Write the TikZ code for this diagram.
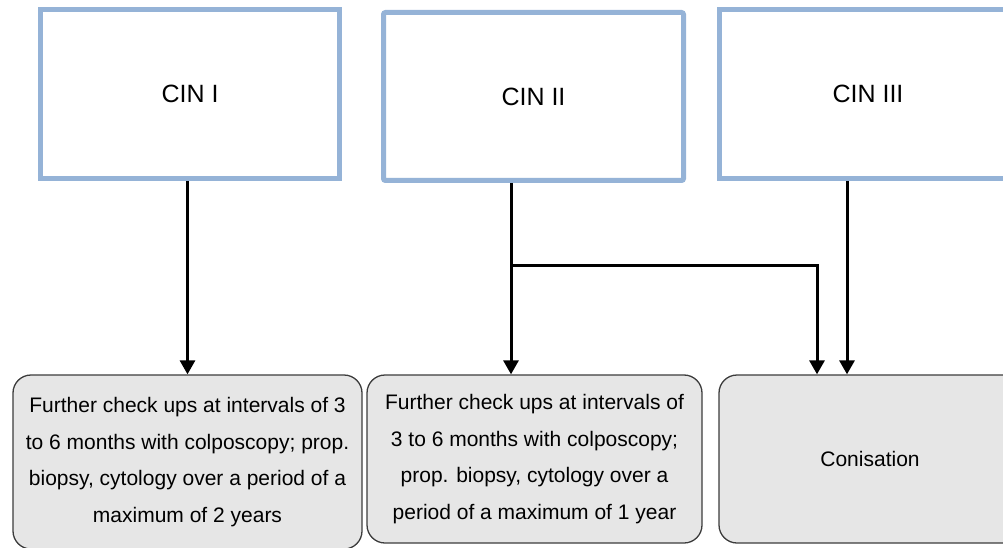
\documentclass[tikz,border=0pt]{standalone}
\usepackage{fontspec}
\setmainfont{Liberation Sans}
\usetikzlibrary{arrows.meta}
\definecolor{topblue}{RGB}{149,179,215}
\definecolor{boxgray}{RGB}{230,230,230}
\definecolor{boxedge}{RGB}{60,60,60}
\begin{document}
\begin{tikzpicture}[x=1pt,y=-1pt,
  topbox/.style={draw=topblue, line width=5pt, fill=white, inner sep=0pt,
    font=\fontsize{25}{30}\selectfont},
  botbox/.style={draw=boxedge, line width=1.3pt, fill=boxgray, rounded corners=18pt,
    inner sep=0pt, align=center, font=\fontsize{21}{36.7}\selectfont},
  flow/.style={line width=3pt, -{Triangle[width=15pt,length=14pt]}}]
\useasboundingbox (0,0) rectangle (1003,548);
\clip (0,0) rectangle (1003,548);
% top boxes
\node[topbox, minimum width=299pt, minimum height=169pt] (t1) at (190,94) {CIN I};
\node[topbox, rounded corners=2pt, minimum width=300pt, minimum height=168pt] (t2) at (533.5,96.5) {CIN II};
\node[topbox, minimum width=297pt, minimum height=169pt] (t3) at (868,94) {CIN III};
% bottom boxes
\node[botbox, minimum width=349pt, minimum height=174pt] (b1) at (187.5,462)
  {Further check ups at intervals of 3\\to 6 months with colposcopy; prop.\\biopsy, cytology over a period of a\\maximum of 2 years};
\node[botbox, minimum width=335pt, minimum height=168pt] (b2) at (534.5,459)
  {Further check ups at intervals of\\3 to 6 months with colposcopy;\\prop. biopsy, cytology over a\\period of a maximum of 1 year};
\node[botbox, minimum width=302pt, minimum height=168pt] (b3) at (870,459) {Conisation};
% helper coordinates
\coordinate (j) at (511,265);
\coordinate (k) at (817,265);
\coordinate (m) at (847,0);
% connectors
\draw[flow] (t1.south -| b1.north) -- (b1.north);
\draw[flow] (t2.south -| j) -- (b2.north -| j);
\draw[flow] (j) -- (k) -- (b3.north -| k);
\draw[flow] (t3.south -| m) -- (b3.north -| m);
\end{tikzpicture}
\end{document}
